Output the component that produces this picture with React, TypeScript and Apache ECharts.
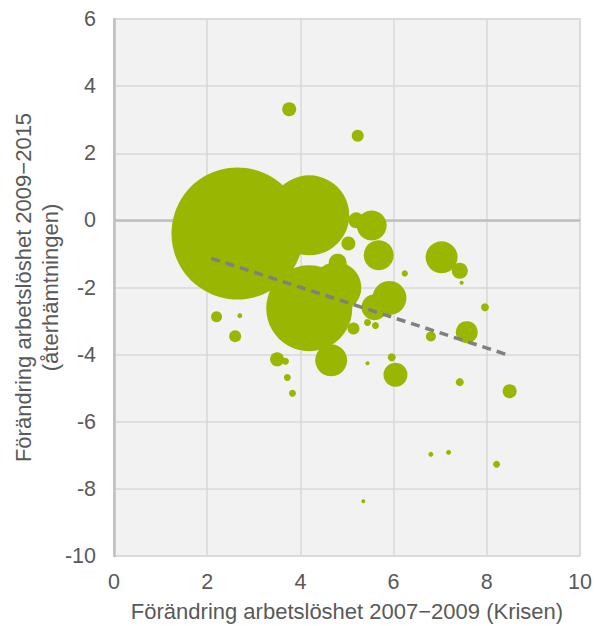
import React, { useEffect, useRef } from "react";
import * as echarts from "echarts";

const xCrisis = [3.76, 5.23, 2.65, 4.19, 5.53, 5.68, 5.03, 5.2, 4.8, 4.19, 4.77, 4.66, 2.2, 2.7, 2.6, 3.5, 3.68, 3.72, 3.83, 5.14, 5.44, 5.96, 6.04, 7.03, 7.42, 7.46, 6.24, 7.96, 5.91, 5.59, 5.44, 5.61, 6.8, 7.57, 7.42, 8.49, 6.8, 7.18, 8.21, 5.35];
const yRecovery = [3.31, 2.52, -0.39, 0.15, -0.15, -1.04, -0.69, 0.0, -1.26, -2.62, -2.0, -4.17, -2.87, -2.84, -3.45, -4.14, -4.2, -4.68, -5.15, -3.22, -4.26, -4.08, -4.6, -1.1, -1.5, -1.86, -1.58, -2.59, -2.31, -2.59, -3.04, -3.13, -3.46, -3.33, -4.82, -5.09, -6.97, -6.91, -7.27, -8.37];
const weight = [49, 36, 4356, 1600, 225, 225, 49, 64, 81, 1849, 625, 256, 30, 6, 36, 49, 12, 12, 12, 36, 4, 16, 144, 256, 64, 4, 10, 16, 289, 169, 12, 12, 25, 121, 16, 49, 6, 6, 12, 4];
const trendX = [2.09, 8.41];
const trendY = [-1.13, -3.99];
const xTicks = { min: 0, max: 10, interval: 2 };
const yTicks = { min: -10, max: 6, interval: 2 };

export default function App() {
  const ref = useRef<HTMLDivElement>(null);
  useEffect(() => {
    if (!ref.current) return;
    const chart = echarts.init(ref.current, null, { renderer: "svg" });
    const font = "Liberation Sans";
    const bubbles = xCrisis.map((x, i) => [x, yRecovery[i], weight[i]]);
    chart.setOption({
      animation: false,
      textStyle: { fontFamily: font },
      grid: {
        left: 114,
        top: 19,
        right: 15,
        bottom: 70,
        containLabel: false,
        outerBoundsMode: "none",
        show: true,
        backgroundColor: "#f2f2f2",
        borderColor: "#d9d9d9",
        borderWidth: 1.5,
      },
      xAxis: {
        type: "value",
        ...xTicks,
        name: "Förändring arbetslöshet 2007−2009 (Krisen)",
        nameLocation: "middle",
        nameGap: 44,
        nameMoveOverlap: false,
        nameTextStyle: { fontSize: 22, color: "#595959", fontFamily: font },
        axisLine: { show: false },
        axisTick: { show: false },
        axisLabel: { fontSize: 21.5, color: "#595959", margin: 15, fontFamily: font },
        splitLine: { lineStyle: { color: "#d9d9d9", width: 1.5 } },
      },
      yAxis: {
        type: "value",
        ...yTicks,
        name: "Förändring arbetslöshet 2009−2015\n(återhämtningen)",
        nameLocation: "middle",
        nameGap: 50,
        nameMoveOverlap: false,
        nameRotate: 90,
        nameTextStyle: { fontSize: 22, color: "#595959", lineHeight: 27, fontFamily: font },
        axisLine: { show: true, onZero: false, lineStyle: { color: "#bfbfbf", width: 2.5 } },
        axisTick: { show: false },
        axisLabel: { fontSize: 21.5, color: "#595959", margin: 18, fontFamily: font },
        splitLine: { lineStyle: { color: "#d9d9d9", width: 1.5 } },
      },
      series: [
        {
          type: "line",
          data: [[xTicks.min, 0], [xTicks.max, 0]],
          symbol: "none",
          z: 1,
          silent: true,
          lineStyle: { color: "#bfbfbf", width: 2.5 },
        },
        {
          type: "scatter",
          data: bubbles,
          z: 2,
          symbolSize: (v: number[]) => 2 * Math.sqrt(v[2]),
          itemStyle: { color: "#99b700", opacity: 1 },
        },
        {
          type: "line",
          data: trendX.map((x, i) => [x, trendY[i]]),
          symbol: "none",
          z: 3,
          lineStyle: { color: "#808080", width: 3.5, type: [9, 6] },
        },
      ],
    });
    return () => chart.dispose();
  }, []);
  return <div ref={ref} style={{ width: 595, height: 626, position: "absolute", left: 0, top: 0 }} />;
}
